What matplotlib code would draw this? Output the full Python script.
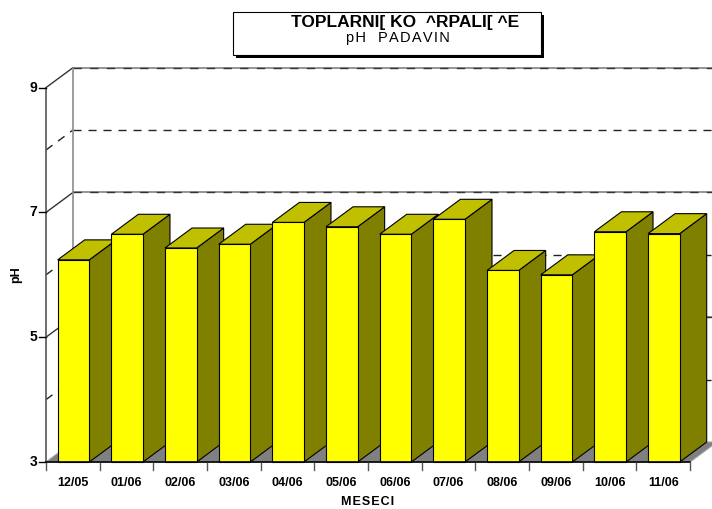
import matplotlib
matplotlib.use('Agg')
import matplotlib.pyplot as plt
from matplotlib.patches import Polygon, Rectangle

plt.rcParams['font.family'] = ['Liberation Sans', 'DejaVu Sans']

# monthly pH of precipitation
months = ['12/05', '01/06', '02/06', '03/06', '04/06', '05/06',
          '06/06', '07/06', '08/06', '09/06', '10/06', '11/06']
ph = [6.24, 6.65, 6.43, 6.49, 6.84, 6.77, 6.65, 6.89, 6.07, 6.00, 6.69, 6.66]
major_ticks = [3, 5, 7, 9]
minor_ticks = [4, 6, 8]

y_min, y_max = 3, 9
n = len(months)

# 3d depth offset (in data units) and bar placement inside each slot
DX, DY = 0.503, 0.32
bar_left, bar_right = 0.218, 0.807

front_c = '#FFFF00'
top_c = '#C0C000'
side_c = '#808000'
floor_c = '#808080'


def spaced(s, sep='\u200a'):
    return sep.join(s)


fig = plt.figure(figsize=(7.12, 5.09), dpi=100)
ax = fig.add_axes([0, 0, 1, 1])
ax.set_xlim(-0.857, 12.409)
ax.set_ylim(2.247, 10.404)
ax.axis('off')

# back wall and left side wall grid
for v in major_ticks[1:]:
    ax.plot([DX, n + DX], [v + DY, v + DY], color='#8c8c8c', lw=1.3, zorder=1)
    ax.plot([DX, n + DX], [v + DY, v + DY], color='#333333', lw=1.0,
            dashes=(6, 6), zorder=1)
    ax.plot([0, DX], [v, v + DY], color='#333333', lw=1.0, zorder=1)
for v in minor_ticks:
    ax.plot([DX, n + DX], [v + DY, v + DY], color='#222222', lw=1.0,
            dashes=(5.8, 5), zorder=1)
    ax.plot([0, DX], [v, v + DY], color='#222222', lw=1.0,
            dashes=(5.8, 5), zorder=1)
ax.plot([DX, DX], [y_min + DY, y_max + DY], color='#8c8c8c', lw=1.2, zorder=1)

# floor
floor = Polygon([(0, y_min), (n, y_min), (n + DX, y_min + DY), (DX, y_min + DY)],
                closed=True, facecolor=floor_c, edgecolor='#a0a0a0', lw=0.8, zorder=2)
ax.add_patch(floor)

# bars, left to right so each front hides the previous side face
for i, v in enumerate(ph):
    x0 = i + bar_left
    x1 = i + bar_right
    z = 3 + i * 0.01
    side = Polygon([(x1, y_min), (x1 + DX, y_min + DY), (x1 + DX, v + DY), (x1, v)],
                   closed=True, facecolor=side_c, edgecolor='black', lw=0.8, zorder=z)
    top = Polygon([(x0, v), (x1, v), (x1 + DX, v + DY), (x0 + DX, v + DY)],
                  closed=True, facecolor=top_c, edgecolor='black', lw=0.8, zorder=z)
    front = Rectangle((x0, y_min), x1 - x0, v - y_min,
                      facecolor=front_c, edgecolor='black', lw=0.8, zorder=z)
    ax.add_patch(side)
    ax.add_patch(top)
    ax.add_patch(front)

# axes lines
ax.plot([0, 0], [y_min, y_max], color='#555555', lw=1.2, zorder=5)
ax.plot([0, n], [y_min, y_min], color='black', lw=1.2, zorder=5)

tx = 7 / 53.67
ty = 7 / 62.4
for v in major_ticks:
    ax.plot([-tx, 0], [v, v], color='black', lw=1.0, zorder=5)
    ax.text(-9 / 53.67, v, str(v), ha='right', va='center',
            fontsize=10, fontweight='bold')
for i in range(n + 1):
    ax.plot([i, i], [y_min - 0.02, y_min - ty - 0.02], color='#555555', lw=1.0, zorder=5)
for i, m in enumerate(months):
    ax.text(i + 0.5, y_min - 21 / 62.4, m, ha='center', va='center',
            fontsize=9, fontweight='bold')

ax.text(n / 2, y_min - 40 / 62.4, spaced('MESECI'),
        ha='center', va='center', fontsize=9, fontweight='bold')
ax.text(-30 / 53.67, 6, 'pH', rotation=90, ha='center', va='center',
        fontsize=9, fontweight='bold')

# title box with drop shadow
W, H = 712.0, 509.0
bx0, bx1, by0, by1 = 233, 541, 12, 55
shadow = Rectangle(((bx0 + 3) / W, 1 - (by1 + 3) / H),
                   (bx1 - bx0) / W, (by1 - by0) / H,
                   transform=fig.transFigure, facecolor='black', edgecolor='black',
                   lw=0, zorder=10)
fig.patches.append(shadow)
box = Rectangle((bx0 / W, 1 - by1 / H), (bx1 - bx0) / W, (by1 - by0) / H,
                transform=fig.transFigure, facecolor='white', edgecolor='black',
                lw=0.8, zorder=11)
fig.patches.append(box)
fig.text(405 / W, 1 - 27 / H, 'TOPLARNI[ KO  ^RPALI[ ^E', ha='center', va='baseline',
         fontsize=12.5, fontweight='bold', zorder=12)
fig.text(398 / W, 1 - 42 / H, spaced('pH  PADAVIN'), ha='center', va='baseline',
         fontsize=10.5, zorder=12)

fig.savefig('out.png', dpi=100)
